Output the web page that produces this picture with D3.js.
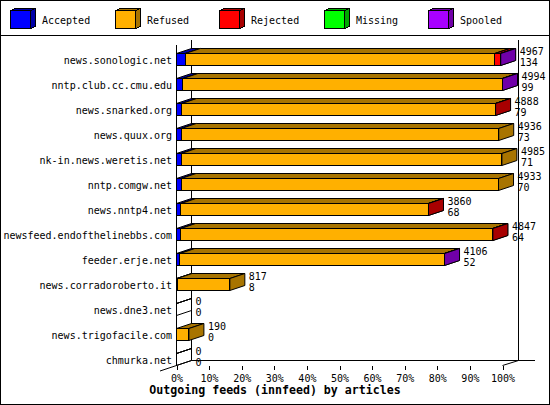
<!DOCTYPE html>
<html><head><meta charset="utf-8">
<script src="https://cdn.jsdelivr.net/npm/d3@7/dist/d3.min.js"></script>
<style>
html,body{margin:0;padding:0;background:#fff;}
svg{display:block;}
text{font-family:"DejaVu Sans Mono",monospace;font-size:10px;fill:#000;}
</style></head>
<body>
<script>
const hosts = ["news.sonologic.net","nntp.club.cc.cmu.edu","news.snarked.org","news.quux.org","nk-in.news.weretis.net","nntp.comgw.net","news.nntp4.net","newsfeed.endofthelinebbs.com","feeder.erje.net","news.corradoroberto.it","news.dne3.net","news.trigofacile.com","chmurka.net"];
const offered  = [4967,4994,4888,4936,4985,4933,3860,4847,4106,817,0,190,0];
const accepted = [134,99,79,73,71,70,68,64,52,8,0,0,0];
const refused  = [4744,4891,4806,4863,4914,4863,3789,4780,4051,809,0,190,0];
const rejected = [85,0,3,0,0,0,3,3,0,0,0,0,0];
const missing  = [0,0,0,0,0,0,0,0,0,0,0,0,0];
const spooled  = [4,4,0,0,0,0,0,0,3,0,0,0,0];
const seriesNames = ["Accepted","Refused","Rejected","Missing","Spooled"];
const seriesFront = ["#0000ff","#ffb000","#ff0000","#00ff00","#a800ff"];
const seriesDark  = ["#0000a8","#a87400","#a80000","#00a800","#7000a8"];
const xTickValues = [0,10,20,30,40,50,60,70,80,90,100];
const title = "Outgoing feeds (innfeed) by articles";

const W = 550, H = 405;
const DX = 15, DY = 5;
const svg = d3.select("body").append("svg").attr("width", W).attr("height", H)
  .attr("shape-rendering","crispEdges");

// border
svg.append("rect").attr("x",0.5).attr("y",0.5).attr("width",W-1).attr("height",H-1)
  .attr("fill","#fff").attr("stroke","#000");
svg.append("line").attr("x1",0).attr("x2",W).attr("y1",35.5).attr("y2",35.5).attr("stroke","#000");

// legend
const legX = d3.scaleLinear().domain([0,1]).range([10,114.5]);
seriesNames.forEach((n,i)=>{
  const x = Math.round(legX(i)) + 0.5, y = 10.5, w = 20, h = 18, dx = 5, dy = 2;
  const g = svg.append("g");
  g.append("polygon").attr("points",[[x,y],[x+dx,y-dy],[x+w+dx,y-dy],[x+w,y]].join(" "))
    .attr("fill",seriesDark[i]).attr("stroke","#000");
  g.append("polygon").attr("points",[[x+w,y],[x+w+dx,y-dy],[x+w+dx,y+h-dy],[x+w,y+h]].join(" "))
    .attr("fill",seriesDark[i]).attr("stroke","#000");
  g.append("rect").attr("x",x).attr("y",y).attr("width",w).attr("height",h)
    .attr("fill",seriesFront[i]).attr("stroke","#000");
  g.append("text").attr("x",x+31.5).attr("y",24).text(n);
});

// scales
const x = d3.scaleLinear().domain([0, d3.max(offered)]).range([176.5, 502.5]);
const xPct = d3.scaleLinear().domain([0,100]).range([176.5, 502.5]);
const y = d3.scaleBand().domain(hosts).range([46.5, 371.5]).padding(0);
const frontTop = h => Math.round(y(h) + y.bandwidth()/2 - 6) + 0.5;
const frontBot = h => frontTop(h) + 12;

const backX0 = x(0) + DX;           // back-left wall
const backYBottom = 360.5;
const topY = 39.5;
const frontBottomY = backYBottom + DY;

// back walls
svg.append("line").attr("x1",backX0).attr("x2",backX0).attr("y1",topY).attr("y2",backYBottom).attr("stroke","#000");
svg.append("line").attr("x1",x.range()[1]+DX+1).attr("x2",x.range()[1]+DX+1).attr("y1",topY).attr("y2",backYBottom).attr("stroke","#000");
svg.append("line").attr("x1",backX0).attr("x2",535).attr("y1",backYBottom).attr("y2",backYBottom).attr("stroke","#000");
svg.append("line").attr("x1",x.range()[1]).attr("y1",frontBottomY).attr("x2",x.range()[1]+DX+1).attr("y2",backYBottom).attr("stroke","#000").attr("shape-rendering","auto");
svg.append("line").attr("x1",160).attr("y1",frontBottomY+ (x(0)-160)/3).attr("x2",backX0).attr("y2",backYBottom).attr("stroke","#000").attr("shape-rendering","auto");

// bars
const series = [accepted, refused, rejected, missing, spooled];
function box(g, x0, x1, t, b, fill, dark, outlineOnly){
  g.append("polygon").attr("points",[[x0,t],[x0+DX,t-DY],[x1+DX,t-DY],[x1,t]].join(" "))
    .attr("fill", outlineOnly ? "none" : dark).attr("stroke","#000").attr("shape-rendering","auto");
  g.append("polygon").attr("points",[[x1,t],[x1+DX,t-DY],[x1+DX,b-DY],[x1,b]].join(" "))
    .attr("fill", outlineOnly ? "none" : dark).attr("stroke","#000").attr("shape-rendering","auto");
  g.append("rect").attr("x",x0).attr("y",t).attr("width",Math.max(0,x1-x0)).attr("height",b-t)
    .attr("fill", outlineOnly ? "none" : fill).attr("stroke","#000");
}
hosts.forEach((h,i)=>{
  const g = svg.append("g");
  const t = frontTop(h), b = frontBot(h);
  let cum = 0, drawn = false;
  series.forEach((s,k)=>{
    const v = s[i];
    if (v > 0){
      box(g, x(cum), x(cum+v), t, b, seriesFront[k], seriesDark[k], false);
      drawn = true;
    }
    cum += v;
  });
  if (!drawn) box(g, x(0), x(0), t, b, "none", "none", true);
  const lx = x(offered[i]) + DX + 4;
  g.append("text").attr("x",lx).attr("y",t+1.5).text(offered[i]);
  g.append("text").attr("x",lx).attr("y",b+0.5).text(accepted[i]);
  svg.append("text").attr("x",172).attr("y",t+10).attr("text-anchor","end").text(h);
});

// front axis line
svg.append("line").attr("x1",x(0)).attr("x2",x(0)).attr("y1",topY+DY).attr("y2",frontBottomY).attr("stroke","#000");

// x axis ticks
const ax = svg.append("g").attr("transform",`translate(0,${frontBottomY})`)
  .call(d3.axisBottom(xPct).tickValues(xTickValues).tickFormat(d=>d+"%").tickSize(4).tickPadding(0));
ax.select(".domain").remove();
ax.selectAll("line").attr("stroke","#000");
ax.selectAll("text").attr("dy",null).attr("y",16.5)
  .style("font-family","'DejaVu Sans Mono',monospace").style("font-size","10px").attr("fill","#000");

// title
svg.append("text").attr("x",W/2).attr("y",394).attr("text-anchor","middle")
  .style("font-weight","bold").style("font-size","11.6px").text(title);
</script>
</body></html>
